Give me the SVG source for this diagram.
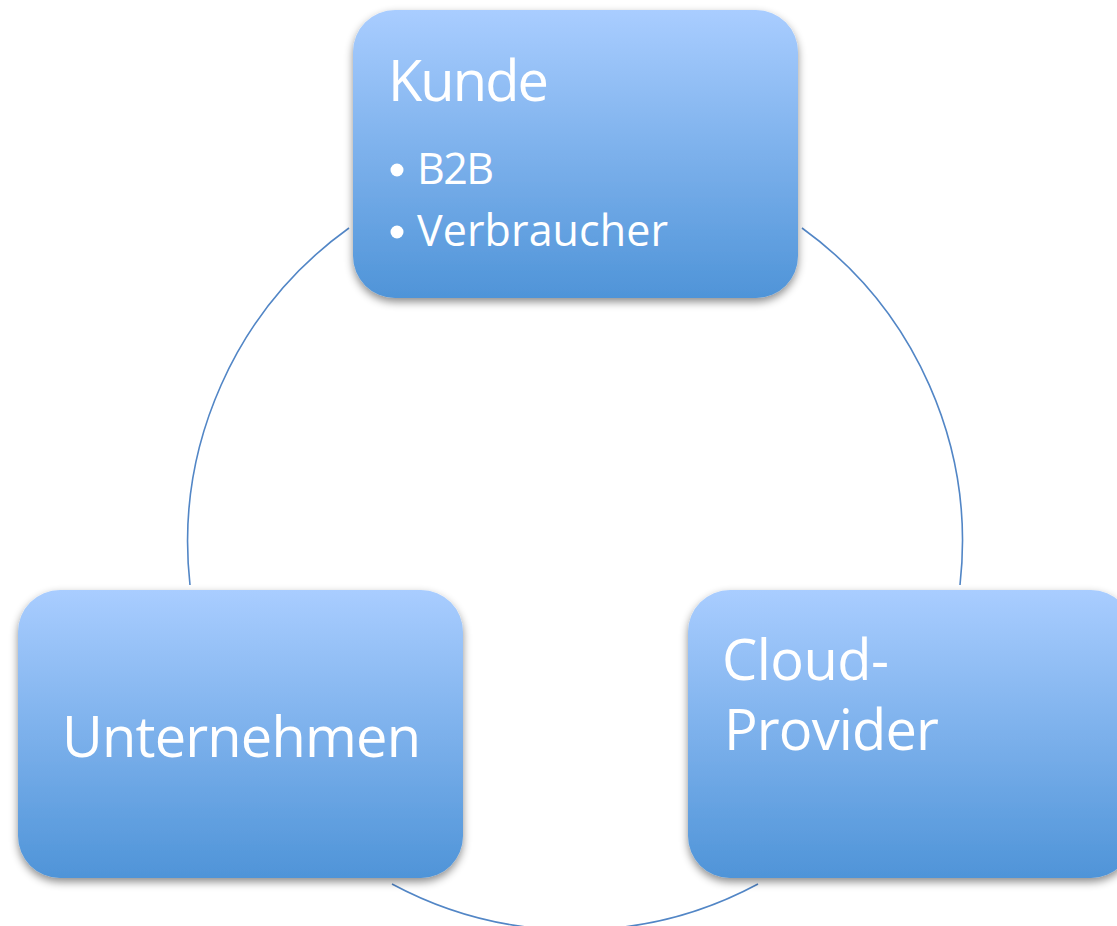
<svg xmlns="http://www.w3.org/2000/svg" width="1117" height="926" viewBox="0 0 1117 926">
  <style>
    .box { fill: url(#boxFill); filter: url(#shadow); }
    .label { fill: #ffffff; font-family: "Open Sans", "Noto Sans", sans-serif; }
    .big { font-size: 56px; }
    .small { font-size: 43px; }
    .ring { fill: none; stroke: #5286c6; stroke-width: 1.6; }
  </style>
  <defs>
    <linearGradient id="boxFill" x1="0" y1="0" x2="0" y2="1">
      <stop offset="0" stop-color="#a9cdff"/>
      <stop offset="1" stop-color="#4f94d8"/>
    </linearGradient>
    <filter id="shadow" x="-10%" y="-10%" width="120%" height="125%">
      <feDropShadow dx="0" dy="4" stdDeviation="4" flood-color="#000000" flood-opacity="0.45"/>
    </filter>
  </defs>

  <!-- cycle arcs linking the three parties (centre 575,543, r 387) -->
  <g id="connectors">
    <path class="ring" d="M349,228 A387,387 0 0 0 190,585"/>
    <path class="ring" d="M802,228 A387,387 0 0 1 960,585"/>
    <path class="ring" d="M392,884 A387,387 0 0 0 758,884"/>
  </g>

  <g id="kunde">
    <rect class="box" x="353" y="10" width="445" height="288" rx="42"/>
    <text class="label big" x="388" y="101" textLength="161">Kunde</text>
    <circle cx="397" cy="170" r="6.5" fill="#ffffff"/>
    <text class="label small" x="417" y="184" textLength="77">B2B</text>
    <circle cx="397" cy="232" r="6.5" fill="#ffffff"/>
    <text class="label small" x="417" y="246" textLength="251">Verbraucher</text>
  </g>

  <g id="unternehmen">
    <rect class="box" x="18" y="590" width="445" height="288" rx="42"/>
    <text class="label big" x="62" y="757" textLength="359">Unternehmen</text>
  </g>

  <g id="cloud-provider">
    <rect class="box" x="688" y="590" width="445" height="288" rx="42"/>
    <text class="label big" x="722" y="680" textLength="167">Cloud-</text>
    <text class="label big" x="724" y="750" textLength="215">Provider</text>
  </g>
</svg>
